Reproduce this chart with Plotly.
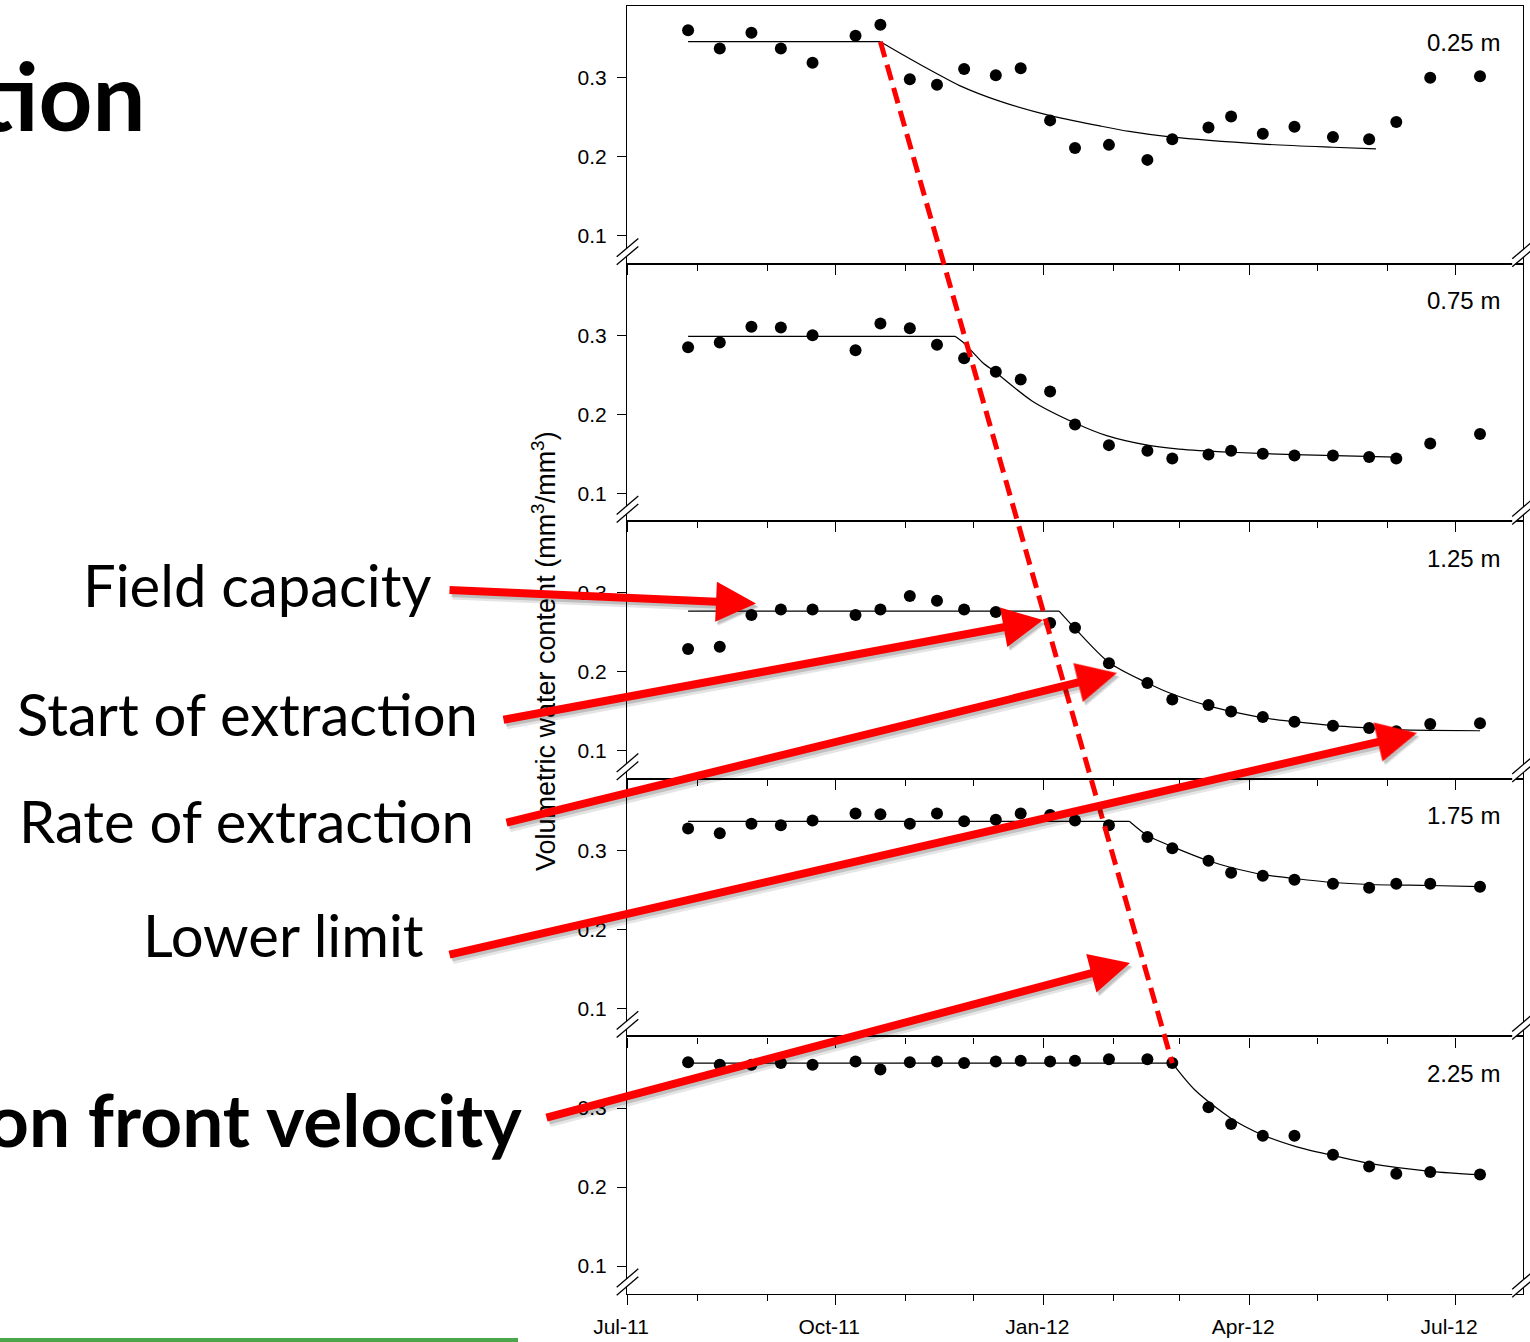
import math
import plotly.graph_objects as go

# ---- page geometry (pixels) ----
W, H = 1530, 1342
ML, MR, MT, MB = 627, 7, 6, 48
PW, PH = W - ML - MR, H - MT - MB
NP = 5
Y_RANGE = [0.0647, 0.3908]
X_RANGE = ["2011-07-01", "2012-07-31"]


def fx(px):
    return (px - ML) / PW


def fy(py):
    return (H - MB - py) / PH


def axid(letter, k):
    return letter if k == 1 else f"{letter}{k}"


# ---- measurements ----
depths = ["0.25 m", "0.75 m", "1.25 m", "1.75 m", "2.25 m"]

dates = ["2011-07-28", "2011-08-11", "2011-08-25", "2011-09-07", "2011-09-21",
         "2011-10-10", "2011-10-21", "2011-11-03", "2011-11-15", "2011-11-27",
         "2011-12-11", "2011-12-22", "2012-01-04", "2012-01-15", "2012-01-30",
         "2012-02-16", "2012-02-27", "2012-03-14", "2012-03-24", "2012-04-07",
         "2012-04-21", "2012-05-08", "2012-05-24", "2012-06-05", "2012-06-20",
         "2012-07-12"]
dates_125 = [d for d in dates if d != "2011-12-22"]

theta_025 = [0.360, 0.337, 0.357, 0.337, 0.319, 0.353, 0.367, 0.298, 0.291, 0.311,
             0.303, 0.312, 0.246, 0.211, 0.215, 0.196, 0.222, 0.237, 0.251, 0.229,
             0.238, 0.225, 0.222, 0.244, 0.300, 0.302]
theta_075 = [0.285, 0.291, 0.311, 0.310, 0.300, 0.281, 0.315, 0.309, 0.288, 0.271,
             0.254, 0.244, 0.229, 0.187, 0.161, 0.154, 0.144, 0.149, 0.154, 0.150,
             0.148, 0.148, 0.146, 0.144, 0.163, 0.175]
theta_125 = [0.229, 0.232, 0.272, 0.279, 0.279, 0.272, 0.279, 0.296, 0.290, 0.279,
             0.276, 0.262, 0.256, 0.211, 0.186, 0.165, 0.158, 0.150, 0.143, 0.137,
             0.132, 0.129, 0.125, 0.134, 0.135]
theta_175 = [0.328, 0.322, 0.334, 0.332, 0.338, 0.347, 0.346, 0.334, 0.347, 0.337,
             0.339, 0.347, 0.345, 0.338, 0.332, 0.317, 0.303, 0.287, 0.272, 0.268,
             0.263, 0.258, 0.253, 0.258, 0.258, 0.254]
theta_225 = [0.358, 0.355, 0.355, 0.357, 0.355, 0.359, 0.349, 0.358, 0.359, 0.357,
             0.359, 0.360, 0.359, 0.360, 0.362, 0.362, 0.357, 0.301, 0.280, 0.265,
             0.265, 0.241, 0.226, 0.217, 0.219, 0.216]

# ---- fitted extraction model: plateau at field capacity, then decay ----
field_capacity = [0.3456, 0.2987, 0.277, 0.337, 0.357]
extraction_start = ["2011-10-21", "2011-11-23", "2012-01-08", "2012-02-08", "2012-02-27"]

decay_dates_025 = ["2011-11-03", "2011-11-15", "2011-11-25", "2011-12-13", "2012-01-04",
                   "2012-01-26", "2012-02-08", "2012-02-26", "2012-04-07", "2012-05-08",
                   "2012-05-27"]
decay_vals_025 = [0.324, 0.305, 0.290, 0.270, 0.252, 0.239, 0.232, 0.225, 0.216, 0.212, 0.210]

decay_dates_075 = ["2011-11-27", "2011-12-05", "2011-12-11", "2011-12-27", "2012-01-15",
                   "2012-01-29", "2012-02-16", "2012-03-01", "2012-03-24", "2012-04-21",
                   "2012-06-05"]
decay_vals_075 = [0.290, 0.266, 0.253, 0.217, 0.189, 0.173, 0.161, 0.156, 0.152, 0.149, 0.1457]

decay_dates_125 = ["2012-01-15", "2012-01-30", "2012-02-16", "2012-02-27", "2012-03-14",
                   "2012-03-24", "2012-04-07", "2012-04-21", "2012-05-08", "2012-05-24",
                   "2012-06-05", "2012-06-20", "2012-07-12"]
decay_vals_125 = [0.255, 0.212, 0.186, 0.172, 0.157, 0.150, 0.142, 0.137, 0.132, 0.129,
                  0.127, 0.126, 0.1255]

decay_dates_175 = ["2012-02-16", "2012-02-27", "2012-03-14", "2012-03-24", "2012-04-07",
                   "2012-04-21", "2012-05-08", "2012-05-24", "2012-06-20", "2012-07-12"]
decay_vals_175 = [0.319, 0.305, 0.287, 0.2785, 0.2696, 0.2646, 0.2595, 0.257, 0.2557, 0.2544]

decay_dates_225 = ["2012-03-08", "2012-03-24", "2012-04-07", "2012-04-22", "2012-05-08",
                   "2012-05-24", "2012-06-20", "2012-07-12"]
decay_vals_225 = [0.323, 0.287, 0.266, 0.251, 0.240, 0.230, 0.220, 0.2157]

obs_dates = [dates, dates, dates_125, dates, dates]
obs_theta = [theta_025, theta_075, theta_125, theta_175, theta_225]
decay_dates = [decay_dates_025, decay_dates_075, decay_dates_125, decay_dates_175, decay_dates_225]
decay_vals = [decay_vals_025, decay_vals_075, decay_vals_125, decay_vals_175, decay_vals_225]

# slide annotations
callouts = ["Field capacity", "Start of extraction", "Rate of extraction", "Lower limit"]

AXIS_FONT = "Arial, 'Liberation Sans', sans-serif"
SLIDE_FONT = "Lato, Calibri, Carlito, sans-serif"

fig = go.Figure()
layout = dict(
    width=W, height=H,
    margin=dict(l=ML, r=MR, t=MT, b=MB, pad=0),
    paper_bgcolor="white", plot_bgcolor="white",
    showlegend=False, template="none",
)

for i in range(NP):
    k = i + 1
    xa, ya = axid("x", k), axid("y", k)
    d0 = (NP - 1 - i) / NP
    d1 = (NP - i) / NP
    fc = field_capacity[i]
    t0 = extraction_start[i]
    # plateau segment
    fig.add_trace(go.Scatter(x=[obs_dates[i][0], t0], y=[fc, fc], mode="lines",
                             line=dict(color="black", width=1.2),
                             xaxis=xa, yaxis=ya, hoverinfo="skip"))
    # decay segment
    fig.add_trace(go.Scatter(x=[t0] + decay_dates[i], y=[fc] + decay_vals[i], mode="lines",
                             line=dict(color="black", width=1.2, shape="spline", smoothing=0.8),
                             xaxis=xa, yaxis=ya, hoverinfo="skip"))
    # observations
    fig.add_trace(go.Scatter(x=obs_dates[i], y=obs_theta[i], mode="markers",
                             marker=dict(color="black", size=12, line=dict(width=0)),
                             xaxis=xa, yaxis=ya))

    xkey = "xaxis" if k == 1 else f"xaxis{k}"
    ykey = "yaxis" if k == 1 else f"yaxis{k}"
    layout[xkey] = dict(
        domain=[0, 1], anchor=ya, type="date", range=X_RANGE,
        showline=True, mirror=True, linecolor="black", linewidth=1.2,
        showgrid=False, zeroline=False, automargin=False,
        ticks="outside", tick0="2011-07-01", dtick="M3", ticklen=10,
        tickwidth=1.2, tickcolor="black",
        minor=dict(ticks="outside", dtick="M1", tick0="2011-07-01", ticklen=6,
                   tickwidth=1.2, tickcolor="black", showgrid=False),
        showticklabels=(k == NP), tickformat="%b-%y",
        tickfont=dict(family=AXIS_FONT, size=21, color="black"),
        ticklabelshift=-6, ticklabelstandoff=4,
    )
    layout[ykey] = dict(
        domain=[d0, d1], anchor=xa, range=Y_RANGE,
        showline=True, mirror=True, linecolor="black", linewidth=1.2,
        showgrid=False, zeroline=False, automargin=False,
        tickvals=[0.1, 0.2, 0.3], ticktext=["0.1", "0.2", "0.3"],
        ticks="outside", ticklen=9, tickwidth=1.2, tickcolor="black",
        tickfont=dict(family=AXIS_FONT, size=21, color="black"),
        ticklabelstandoff=6,
    )

shapes = []


def ypaper(panel, v):
    d0 = (NP - 1 - panel) / NP
    return d0 + (v - Y_RANGE[0]) / (Y_RANGE[1] - Y_RANGE[0]) / NP


# extraction front: joins the start of extraction at the shallowest and deepest sensors
shapes.append(dict(type="line", xref="x", yref="paper",
                   x0=extraction_start[0], y0=ypaper(0, field_capacity[0]),
                   x1=extraction_start[-1], y1=ypaper(NP - 1, field_capacity[-1]),
                   line=dict(color="#FF0000", width=5, dash="16px,8px"), layer="above"))

# axis-break marks on both sides of every panel
for i in range(NP):
    bottom = MT + (i + 1) * PH / NP
    for cx, cy in ((627.5, bottom - 12), (1523, bottom - 10)):
        hx, hy, gap = 10.8, 9.2, 4.0
        a = (cx - hx, cy + hy - gap)
        b = (cx + hx, cy - hy - gap)
        c = (cx + hx, cy - hy + gap)
        d = (cx - hx, cy + hy + gap)
        path = "M {} {} L {} {} L {} {} L {} {} Z".format(
            fx(a[0]), fy(a[1]), fx(b[0]), fy(b[1]), fx(c[0]), fy(c[1]), fx(d[0]), fy(d[1]))
        shapes.append(dict(type="path", xref="paper", yref="paper", path=path,
                           fillcolor="white", line=dict(width=0), layer="above"))
        for p, q in ((a, b), (d, c)):
            shapes.append(dict(type="line", xref="paper", yref="paper",
                               x0=fx(p[0]), y0=fy(p[1]), x1=fx(q[0]), y1=fy(q[1]),
                               line=dict(color="black", width=1.3), layer="above"))

# green rule at the foot of the slide
shapes.append(dict(type="rect", xref="paper", yref="paper",
                   x0=fx(0), x1=fx(518), y0=fy(1342), y1=fy(1338),
                   fillcolor="#4CA64C", line=dict(width=0), layer="above"))

annotations = []

# y-axis title spanning the stack
annotations.append(dict(
    text="Volumetric water content (mm<sup>3</sup>/mm<sup>3</sup>)",
    x=fx(544), y=fy(651), xref="paper", yref="paper", showarrow=False,
    textangle=-90, xanchor="center", yanchor="middle",
    font=dict(family=AXIS_FONT, size=27, color="black")))

# depth labels
for i in range(NP):
    k = i + 1
    annotations.append(dict(
        text=depths[i], x=(1502 - ML) / PW, y=1 - 37 / (PH / NP),
        xref=f"{axid('x', k)} domain", yref=f"{axid('y', k)} domain", showarrow=False,
        xanchor="right", yanchor="middle",
        font=dict(family=AXIS_FONT, size=24, color="black")))

# slide text
annotations.append(dict(text="tion", x=fx(148), y=fy(94), xref="paper", yref="paper",
                        showarrow=False, xanchor="right", yanchor="middle",
                        font=dict(family=SLIDE_FONT, size=94, color="black", weight="bold")))
annotations.append(dict(text="on front velocity", x=fx(524), y=fy(1119), xref="paper",
                        yref="paper", showarrow=False, xanchor="right", yanchor="middle",
                        font=dict(family=SLIDE_FONT, size=73, color="black", weight="bold")))
label_right = [434, 480, 476, 426]
label_mid = [584, 713, 820, 934]
for txt, rx, my in zip(callouts, label_right, label_mid):
    annotations.append(dict(text=txt, x=fx(rx), y=fy(my), xref="paper", yref="paper",
                            showarrow=False, xanchor="right", yanchor="middle",
                            font=dict(family=SLIDE_FONT, size=58, color="black")))

# callout arrows (tail, tip) in page pixels
arrows = [((448, 590), (756, 603.5)),
          ((502, 720), (1043, 620)),
          ((505, 823), (1117, 673)),
          ((448, 955), (1417, 733)),
          ((545, 1118), (1130, 963))]


def arrow(tail, tip, color, width=8.0, size=1.0, dx=0.0, dy=0.0):
    tx, ty = tail[0] + dx, tail[1] + dy
    hx, hy = tip[0] + dx, tip[1] + dy
    return dict(x=fx(hx), y=fy(hy), xref="paper", yref="paper",
                ax=tx - hx, ay=ty - hy, axref="pixel", ayref="pixel",
                text="", showarrow=True, arrowhead=2, arrowsize=size,
                arrowwidth=width, arrowcolor=color, standoff=0)


for tail, tip in arrows:
    annotations.append(arrow(tail, tip, "rgba(0,0,0,0.10)", width=11, size=8 / 11, dx=3, dy=4))
    annotations.append(arrow(tail, tip, "rgba(0,0,0,0.16)", width=8, dx=2, dy=3))
for tail, tip in arrows:
    annotations.append(arrow(tail, tip, "#FF0000"))

layout["shapes"] = shapes
layout["annotations"] = annotations
fig.update_layout(**layout)

fig.write_html("out.html")
